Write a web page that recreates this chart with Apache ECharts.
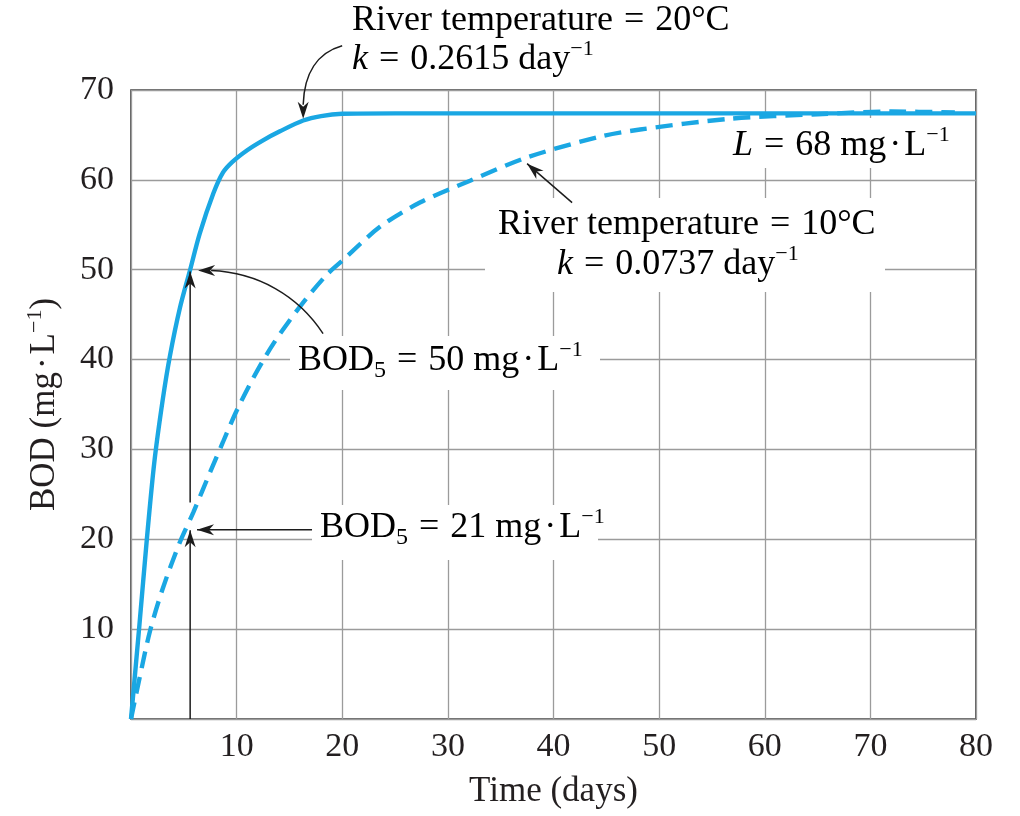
<!DOCTYPE html>
<html><head><meta charset="utf-8">
<script src="https://cdn.jsdelivr.net/npm/echarts@6/dist/echarts.min.js"></script>
<style>html,body{margin:0;padding:0;background:#fff}#c{width:1020px;height:816px}</style>
</head><body><div id="c"></div>
<script>
// ---- data ----
const days20 = [0, 0.8, 1.5, 2.2, 3, 3.7, 4.64, 5.6, 6.5, 7.8, 8.7, 9.6, 11, 12.5, 14.1, 16.3, 18, 20, 25, 30, 40, 50, 60, 70, 80];
const bod20  = [0, 10.5, 20, 28.5, 35.5, 40.5, 45.8, 50, 54, 58.5, 60.8, 62, 63.3, 64.4, 65.4, 66.6, 67.1, 67.35, 67.4, 67.4, 67.4, 67.4, 67.4, 67.4, 67.4];
const days10 = [0, 0.8, 1.8, 3, 4.6, 5.9, 7.5, 8.7, 10, 11.6, 13.5, 16, 18.5, 20, 23.6, 27.4, 32.1, 37.5, 44.4, 48.2, 56.7, 65, 72, 78];
const bod10  = [0, 4.5, 9.8, 14.5, 19.6, 23, 27.5, 30.8, 34.3, 38, 41.8, 45.9, 49.4, 51, 54.8, 57.5, 59.9, 62.5, 64.8, 65.6, 66.8, 67.3, 67.6, 67.5];
const xTickLabels = [10, 20, 30, 40, 50, 60, 70, 80];
const yTickLabels = [10, 20, 30, 40, 50, 60, 70];

const FONT = '"Liberation Serif", "Times New Roman", serif';
const INK = '#231f20';
const BLUE = '#1aa7e3';
const TICK_FS = 34;
const NAME_FS = 35;
const FS = 36;

const chart = echarts.init(document.getElementById('c'));

function pairs(xs, ys) { return xs.map((x, i) => [x, ys[i]]); }

function makeRich(fs, lh) {
  return {
    n:   { fontFamily: FONT, fontSize: fs, color: INK, lineHeight: lh, verticalAlign: 'middle' },
    i:   { fontFamily: FONT, fontSize: fs, color: INK, lineHeight: lh, verticalAlign: 'middle', fontStyle: 'italic' },
    eq:  { fontFamily: FONT, fontSize: fs, color: INK, lineHeight: lh, verticalAlign: 'middle', padding: [0, 2, 0, 2] },
    dot: { fontFamily: FONT, fontSize: fs, color: INK, lineHeight: lh, verticalAlign: 'middle', padding: [0, 3, 0, 3] },
    sup: { fontFamily: FONT, fontSize: Math.round(fs * 0.62), color: INK, lineHeight: Math.round(fs * 0.5), verticalAlign: 'top' },
    sub: { fontFamily: FONT, fontSize: Math.round(fs * 0.66), color: INK, lineHeight: Math.round(fs * 0.44), verticalAlign: 'bottom' }
  };
}
const rich = makeRich(FS, 44);
const nameRich = makeRich(NAME_FS, 42);

chart.setOption({
  animation: false,
  grid: { left: 131, right: 44, top: 90, bottom: 97, show: true, borderColor: '#3a3a3a', borderWidth: 1.6, backgroundColor: '#fff' },
  xAxis: {
    type: 'value', min: 0, max: 80, interval: 10,
    name: 'Time (days)', nameLocation: 'middle', nameGap: 55,
    nameTextStyle: { fontFamily: FONT, fontSize: NAME_FS, color: INK },
    axisLine: { show: false }, axisTick: { show: false },
    splitLine: { show: true, lineStyle: { color: '#9b9b9b', width: 1.3 } },
    axisLabel: { fontFamily: FONT, fontSize: TICK_FS, color: INK, margin: 11,
      formatter: v => xTickLabels.includes(v) ? String(v) : '' }
  },
  yAxis: {
    type: 'value', min: 0, max: 70, interval: 10,
    name: '{n|BOD (mg}{dot|·}{n|L}{sup|−1}{n|)}', nameLocation: 'middle', nameGap: 65, nameRotate: 90,
    nameTextStyle: { rich: nameRich },
    axisLine: { show: false }, axisTick: { show: false },
    splitLine: { show: true, lineStyle: { color: '#9b9b9b', width: 1.3 } },
    axisLabel: { fontFamily: FONT, fontSize: TICK_FS, color: INK, margin: 17,
      formatter: v => yTickLabels.includes(v) ? String(v) : '' }
  },
  series: [
    { type: 'line', data: pairs(days20, bod20), showSymbol: false, smooth: 0.3, z: 3,
      lineStyle: { color: BLUE, width: 4.4 } },
    { type: 'line', data: pairs(days10, bod10), showSymbol: false, smooth: 0.3, z: 3,
      lineStyle: { color: BLUE, width: 4.4, type: [17, 9] } }
  ]
});

function px(x, y) { return chart.convertToPixel({ gridIndex: 0 }, [x, y]); }

function arrowHead(tip, from) {
  const dx = tip[0] - from[0], dy = tip[1] - from[1];
  const len = Math.hypot(dx, dy); const ux = dx / len, uy = dy / len;
  const nx = -uy, ny = ux; const L = 17, W = 5.5, N = 5;
  return { type: 'polygon', z: 20, shape: { points: [
    [tip[0], tip[1]],
    [tip[0] - ux * L + nx * W, tip[1] - uy * L + ny * W],
    [tip[0] - ux * (L - N), tip[1] - uy * (L - N)],
    [tip[0] - ux * L - nx * W, tip[1] - uy * L - ny * W]
  ] }, style: { fill: '#1c1c1c' } };
}
function line(a, b) {
  return { type: 'line', z: 20, shape: { x1: a[0], y1: a[1], x2: b[0], y2: b[1] }, style: { stroke: '#1c1c1c', lineWidth: 1.5 } };
}
function bez(a, c1, c2, b) {
  return { type: 'bezierCurve', z: 20, shape: { x1: a[0], y1: a[1], cpx1: c1[0], cpy1: c1[1], cpx2: c2[0], cpy2: c2[1], x2: b[0], y2: b[1] },
    style: { stroke: '#1c1c1c', lineWidth: 1.5, fill: null } };
}
function mask(x0, y0, x1, y1) {
  return { type: 'rect', z: 1, shape: { x: x0, y: y0, width: x1 - x0, height: y1 - y0 }, style: { fill: '#fff' } };
}
function txt(left, baseline, text) {
  return { type: 'text', z: 21, x: left, y: baseline - 34, style: { text: text, rich: rich, textVerticalAlign: 'top', textAlign: 'left' } };
}

function buildGraphic() {
  const g = [];
  // white boxes behind in-plot labels
  g.push(mask(722, 118, 962, 168));
  g.push(mask(485, 198, 885, 292));
  g.push(mask(290, 336, 600, 390));
  g.push(mask(312, 505, 598, 560));

  // 20°C arrow (curved, pointing down onto the solid curve)
  const t1 = px(16.3, 66.8);
  const s1 = [t1[0] + 39, t1[1] - 73];
  const e1 = [t1[0], t1[1] - 14];
  g.push(bez(s1, [t1[0] + 14, t1[1] - 66], [t1[0] + 1, t1[1] - 45], e1));
  g.push(arrowHead(t1, [t1[0], t1[1] - 20]));

  // 10°C arrow (straight)
  const t2 = px(37.5, 61.8);
  const s2 = [t2[0] + 45, t2[1] + 39];
  g.push(line(s2, t2));
  g.push(arrowHead(t2, s2));

  // BOD5 = 50 arrow (curved, pointing left)
  const t3 = px(6.35, 49.9);
  const s3 = [t3[0] + 125, t3[1] + 63];
  const e3 = [t3[0] + 13, t3[1]];
  g.push(bez(s3, [t3[0] + 100, t3[1] + 25], [t3[0] + 60, t3[1] + 2], e3));
  g.push(arrowHead(t3, [t3[0] + 20, t3[1]]));

  // BOD5 = 21 arrow (horizontal)
  const t4 = px(6.25, 21.05);
  const s4 = [t4[0] + 115, t4[1]];
  g.push(line(s4, t4));
  g.push(arrowHead(t4, s4));

  // vertical arrows at day 5
  const b5 = px(5.6, 0), a5 = px(5.6, 21), c5 = px(5.6, 24.1), d5 = px(5.6, 49.8);
  g.push(line(b5, a5)); g.push(arrowHead(a5, b5));
  g.push(line(c5, d5)); g.push(arrowHead(d5, c5));

  // labels
  g.push(txt(352, 33, '{n|River temperature }{eq|=}{n| 20°C}'));
  g.push(txt(352, 72, '{i|k}{n| }{eq|=}{n| 0.2615 day}{sup|−1}'));
  g.push(txt(733, 158, '{i|L}{n| }{eq|=}{n| 68 mg}{dot|·}{n|L}{sup|−1}'));
  g.push(txt(498, 237, '{n|River temperature }{eq|=}{n| 10°C}'));
  g.push(txt(557, 277, '{i|k}{n| }{eq|=}{n| 0.0737 day}{sup|−1}'));
  g.push(txt(298, 373, '{n|BOD}{sub|5}{n| }{eq|=}{n| 50 mg}{dot|·}{n|L}{sup|−1}'));
  g.push(txt(320, 540, '{n|BOD}{sub|5}{n| }{eq|=}{n| 21 mg}{dot|·}{n|L}{sup|−1}'));
  return g;
}
chart.setOption({ graphic: buildGraphic() });
</script>
</body></html>
